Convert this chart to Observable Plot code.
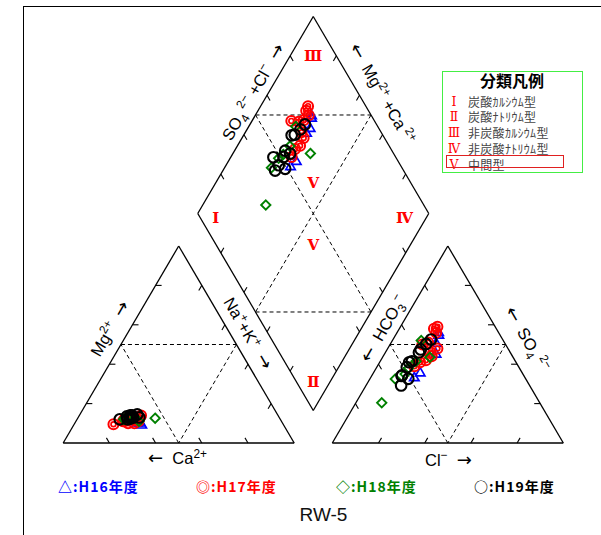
<!DOCTYPE html>
<html><head><meta charset="utf-8">
<script src="https://cdn.jsdelivr.net/npm/d3@7"></script>
<script src="https://cdn.jsdelivr.net/npm/@observablehq/plot@0.6"></script>
<style>
body{margin:0;background:#fff}
#wrap{position:relative;width:601px;height:535px;overflow:hidden;background:#fff;font-family:"Liberation Sans",Arial,sans-serif}
#chart{position:absolute;left:0;top:0}
#frame{position:absolute;left:23px;top:6px;width:640px;height:640px;border-left:1.3px solid #000;border-top:1.3px solid #000;box-sizing:border-box}
#legend{position:absolute;left:442px;top:71px;width:141px;height:102px;border:1.6px solid #44ee44;box-sizing:border-box;background:#fff}
#legend .ttl{position:absolute;left:0;width:138px;top:-0.8px;height:18px;text-align:center;font-family:"Noto Sans CJK JP";font-weight:bold;font-size:16px;line-height:18px;color:#000}
#legend .row{position:absolute;left:0;height:13px;line-height:13px;font-size:12px;white-space:nowrap}
#legend .num{position:absolute;top:0;width:22px;height:13px;left:0;text-align:center;color:#ff0000;font-family:"DejaVu Serif","Liberation Serif",serif;font-size:12.5px;line-height:13px;display:inline-block;overflow:visible}
#legend .nm{position:absolute;top:0;left:25px;height:13px;line-height:13px;display:inline-block;color:#444;font-family:"Noto Sans CJK JP";letter-spacing:0.3px;overflow:visible}
#legend .box{position:absolute;left:3px;top:83px;width:118px;height:13px;border:1.3px solid #e02020;box-sizing:border-box}
.yl{position:absolute;top:477px;font-family:"Noto Sans CJK JP";font-weight:bold;font-size:14px;line-height:18px;letter-spacing:1px;white-space:nowrap}
#station{position:absolute;top:503px;left:0;width:647px;text-align:center;font-size:19px;line-height:24px;color:#111}
</style></head><body>
<div id="wrap">
  <div id="chart"></div>
  <div id="frame"></div>
  <div id="legend"></div>
  <div id="yearLegend"></div>
  <div id="station"></div>
</div>
<script>
// ---------------- data (percent of meq) ----------------
const yearLabels  = ["H16年度", "H17年度", "H18年度", "H19年度"];
const yearSymbols = ["△", "◎", "◇", "○"];
const yearColors  = ["#0000ff", "#ff0000", "#008000", "#000000"];

// H16
const mgH16  = [11, 10, 10.5, 9, 10, 11.5];
const nakH16 = [25.1, 27.1, 26.8, 29.5, 28.3, 24.5];
const so4H16 = [54.6, 50.5, 45, 35.5, 33, 56];
const clH16  = [18.8, 19.7, 22.4, 20.3, 19, 18];
// H17
const mgH17  = [12, 11, 10, 9.5, 11, 13, 12, 14, 11, 10, 12];
const nakH17 = [20.5, 20.9, 23.1, 17, 20.4, 22.2, 24.3, 26.7, 27.1, 25.8, 26.3];
const so4H17 = [59, 58, 56, 50, 51, 48, 46, 44, 42, 41, 39];
const clH17  = [16, 15, 17, 14, 16, 21.5, 19.5, 21, 19.5, 17.5, 16];
// H18
const mgH18  = [12, 13, 12.6, 12, 13.5, 11, 12.5];
const nakH18 = [20.3, 22.8, 33.5, 20.3, 21, 27.3, 22];
const so4H18 = [52, 41.5, 43.5, 32.5, 35, 20.4, 38];
const clH18  = [12.5, 15.5, 20.5, 11, 14, 11.2, 14];
// H19
const mgH19  = [13, 12.5, 14, 13.5, 12, 14.5, 13, 12, 14, 13, 12.5];
const nakH19 = [23.8, 23.1, 22, 20.8, 21.9, 24.8, 22.8, 18.5, 22.8, 26.5, 22.6];
const so4H19 = [52.5, 50.3, 47.5, 46, 41, 41.5, 38.5, 34, 34.3, 32.6, 29.2];
const clH19  = [16.5, 15.5, 14.5, 14.5, 12.8, 13.7, 13, 13, 13, 16.6, 15.2];

const typeNumerals = ["Ⅰ", "Ⅱ", "Ⅲ", "Ⅳ", "Ⅴ"];
const typeNames = ["炭酸ｶﾙｼｳﾑ型", "炭酸ﾅﾄﾘｳﾑ型", "非炭酸ｶﾙｼｳﾑ型", "非炭酸ﾅﾄﾘｳﾑ型", "中間型"];
const legendTitle = "分類凡例";
const stationName = "RW-5";
const tickFractions = [0.2, 0.4, 0.6, 0.8];

// ---------------- geometry ----------------
const S = 100, G = 16.5, H = S * Math.sqrt(3) / 2, K = Math.sqrt(3) / 2;
const CA = [0, 0], NA = [S, 0], MG = [S / 2, H];
const HC = [S + G, 0], CL = [2 * S + G, 0], SO = [1.5 * S + G, H];
const DB = [S + G / 2, G * K];
const dia = (a, b) => [DB[0] + (S / 2) * (b - a), DB[1] + H * (a + b)];
const DL = dia(1, 0), DR = dia(0, 1), DT = dia(1, 1);
const lerp = (p, q, t) => [p[0] + (q[0] - p[0]) * t, p[1] + (q[1] - p[1]) * t];
const PX = 2.29; // approx pixels per unit

const series = [
  [mgH16, nakH16, so4H16, clH16],
  [mgH17, nakH17, so4H17, clH17],
  [mgH18, nakH18, so4H18, clH18],
  [mgH19, nakH19, so4H19, clH19]
];
const points = [];
series.forEach(([mg, nak, so4, cl], yi) => {
  mg.forEach((m, i) => {
    const n = nak[i], s = so4[i], c = cl[i];
    const year = yearLabels[yi];
    points.push({year, x: n + m / 2, y: m * K});                 // cation triangle
    points.push({year, x: HC[0] + c + s / 2, y: s * K});           // anion triangle
    const [dx, dy] = dia((100 - n) / 100, (s + c) / 100);         // diamond
    points.push({year, x: dx, y: dy});
  });
});

const seg = (p, q) => ({x1: p[0], y1: p[1], x2: q[0], y2: q[1]});
const edges = [
  seg(CA, NA), seg(NA, MG), seg(MG, CA),
  seg(HC, CL), seg(CL, SO), seg(SO, HC),
  seg(DB, DR), seg(DR, DT), seg(DT, DL), seg(DL, DB)
];
const dashes = [
  seg([S / 2, 0], lerp(CA, MG, 0.5)), seg(lerp(CA, MG, 0.5), lerp(NA, MG, 0.5)), seg(lerp(NA, MG, 0.5), [S / 2, 0]),
  seg([HC[0] + S / 2, 0], lerp(HC, SO, 0.5)), seg(lerp(HC, SO, 0.5), lerp(CL, SO, 0.5)), seg(lerp(CL, SO, 0.5), [HC[0] + S / 2, 0]),
  seg(dia(1, 0.5), dia(0.5, 1)), seg(dia(0.5, 0), dia(0, 0.5)),
  seg(dia(1, 0.5), dia(0, 0.5)), seg(dia(0.5, 1), dia(0.5, 0))
];
const TL = 2.6;
const tickDefs = [
  [CA, NA, [-0.5, K]], [CA, MG, [1, 0]], [NA, MG, [-0.5, -K]],
  [HC, CL, [0.5, K]], [CL, SO, [-1, 0]], [HC, SO, [0.5, -K]],
  [DB, DL, [0.5, K]], [DB, DR, [-0.5, K]], [DL, DT, [0.5, -K]], [DR, DT, [-0.5, -K]]
];
const ticks = tickDefs.flatMap(([p, q, d]) => tickFractions.map(t => {
  const a = lerp(p, q, t);
  return seg(a, [a[0] + d[0] * TL, a[1] + d[1] * TL]);
}));

const zoneLabels = [
  {ab: [0.9, 0.9], text: typeNumerals[2]},
  {ab: [0.91, 0.065], text: typeNumerals[0]},
  {ab: [0.092, 0.883], text: typeNumerals[3]},
  {ab: [0.073, 0.073], text: typeNumerals[1]},
  {ab: [0.576, 0.576], text: typeNumerals[4]},
  {ab: [0.419, 0.419], text: typeNumerals[4]}
].map(d => { const [x, y] = dia(d.ab[0], d.ab[1]); return {x, y, text: d.text}; });

function along(p, q, t, offPx, side) {
  const a = lerp(p, q, t);
  const dx = q[0] - p[0], dy = q[1] - p[1], L = Math.hypot(dx, dy);
  const nx = side * (-dy / L), ny = side * (dx / L);
  const o = offPx / PX;
  return [a[0] + nx * o, a[1] + ny * o];
}
const axisLabels = [
  {pos: along(CA, MG, 0.537, 17, 1), rotate: -60, text: "Mg^[2+]  →"},
  {pos: along(CA, NA, 0.495, 16, -1), rotate: 0, text: "←  Ca^[2+]"},
  {pos: along(MG, NA, 0.483, 15, 1), rotate: 60, text: "Na^[+]+K^[+]  →"},
  {pos: along(DL, DT, 0.583, 13, 1), rotate: -60, text: "SO_[4]^[ 2−] +Cl^[−]  →"},
  {pos: along(DT, DR, 0.443, 20, 1), rotate: 60, text: "←  Mg^[2+] +Ca^[ 2+]"},
  {pos: along(HC, SO, 0.546, 13.5, 1), rotate: -60, text: "←  HCO_[3]^[−]"},
  {pos: along(HC, CL, 0.503, 17.5, -1), rotate: 0, text: "Cl^[−]  →"},
  {pos: along(SO, CL, 0.526, 21, 1), rotate: 60, text: "←  SO_[4]^[ 2−]"}
].map(d => ({x: d.pos[0], y: d.pos[1], rotate: d.rotate, text: d.text}));

const byYear = y => points.filter(p => p.year === y);
const FS = 16.5;

const plot = Plot.plot({
  width: 601, height: 535, margin: 0,
  x: {domain: [0, S], range: [62.7, 293.7], axis: null},
  y: {domain: [0, H], range: [442.5, 245.5], axis: null},
  style: {background: "transparent"},
  marks: [
    Plot.link(dashes, {x1: "x1", y1: "y1", x2: "x2", y2: "y2", stroke: "#000", strokeWidth: 1, strokeDasharray: "4,3"}),
    Plot.link(edges, {x1: "x1", y1: "y1", x2: "x2", y2: "y2", stroke: "#000", strokeWidth: 1.3}),
    Plot.link(ticks, {x1: "x1", y1: "y1", x2: "x2", y2: "y2", stroke: "#000", strokeWidth: 1.1}),
    Plot.text(zoneLabels, {x: "x", y: "y", text: "text", fill: "#ff0000", fontSize: 15, fontWeight: "bold", fontFamily: "DejaVu Serif, Liberation Serif, serif"}),
    Plot.text(axisLabels, {x: "x", y: "y", text: "text", rotate: "rotate", fill: "#000", fontSize: FS, fontFamily: "Liberation Sans, Arial, sans-serif"}),
    Plot.dot(byYear(yearLabels[0]), {x: "x", y: "y", symbol: "triangle", r: 3.5, stroke: yearColors[0], fill: "none", strokeWidth: 1.7}),
    Plot.dot(byYear(yearLabels[1]), {x: "x", y: "y", r: 5, stroke: yearColors[1], fill: "none", strokeWidth: 2}),
    Plot.dot(byYear(yearLabels[1]), {x: "x", y: "y", r: 2.4, stroke: yearColors[1], fill: "none", strokeWidth: 1.7}),
    Plot.dot(byYear(yearLabels[2]), {x: "x", y: "y", symbol: "diamond2", r: 4.2, stroke: yearColors[2], fill: "none", strokeWidth: 1.9}),
    Plot.dot(byYear(yearLabels[3]), {x: "x", y: "y", r: 5.3, stroke: yearColors[3], fill: "none", strokeWidth: 2.1})
  ]
});
document.getElementById("chart").appendChild(plot);

// superscript / subscript / arrow rendering for ion labels
d3.select(plot).selectAll("text").each(function () {
  const raw = this.textContent;
  if (!/[\^_]\[|[←→]/.test(raw)) return;
  const parts = [];
  const re = /(\^|_)\[([^\]]*)\]|([←→])/g;
  let last = 0, m;
  while ((m = re.exec(raw))) {
    if (m.index > last) parts.push({t: raw.slice(last, m.index), k: "n"});
    if (m[3]) parts.push({t: m[3], k: "arrow"});
    else parts.push({t: m[2], k: m[1] === "^" ? "sup" : "sub"});
    last = re.lastIndex;
  }
  if (last < raw.length) parts.push({t: raw.slice(last), k: "n"});
  while (this.firstChild) this.removeChild(this.firstChild);
  let cur = 0;
  const sel = d3.select(this);
  parts.forEach(p => {
    const target = p.k === "sup" ? -6.5 : p.k === "sub" ? 4.5 : 0;
    const ts = sel.append("tspan").attr("dy", target - cur).text(p.t);
    if (p.k === "sup" || p.k === "sub") ts.attr("font-size", FS * 0.72);
    if (p.k === "arrow") ts.attr("font-family", "DejaVu Sans").attr("font-size", 18);
    cur = target;
  });
});

// legend box
const lg = d3.select("#legend");
lg.append("div").attr("class", "ttl").text(legendTitle);
const rowTops = [22.5, 38.3, 54.1, 69.9, 85.5];
typeNames.forEach((nm, i) => {
  const r = lg.append("div").attr("class", "row").style("top", rowTops[i] + "px");
  r.append("span").attr("class", "num").text(typeNumerals[i]);
  r.append("span").attr("class", "nm").text(nm);
});
lg.append("div").attr("class", "box");

// year legend
const yLeft = [58, 196, 336, 474];
const yl = d3.select("#yearLegend");
yearLabels.forEach((lab, i) => {
  yl.append("div").attr("class", "yl").style("left", yLeft[i] + "px").style("color", yearColors[i])
    .text(yearSymbols[i] + ":" + lab);
});
d3.select("#station").text(stationName);
</script>
</body></html>
